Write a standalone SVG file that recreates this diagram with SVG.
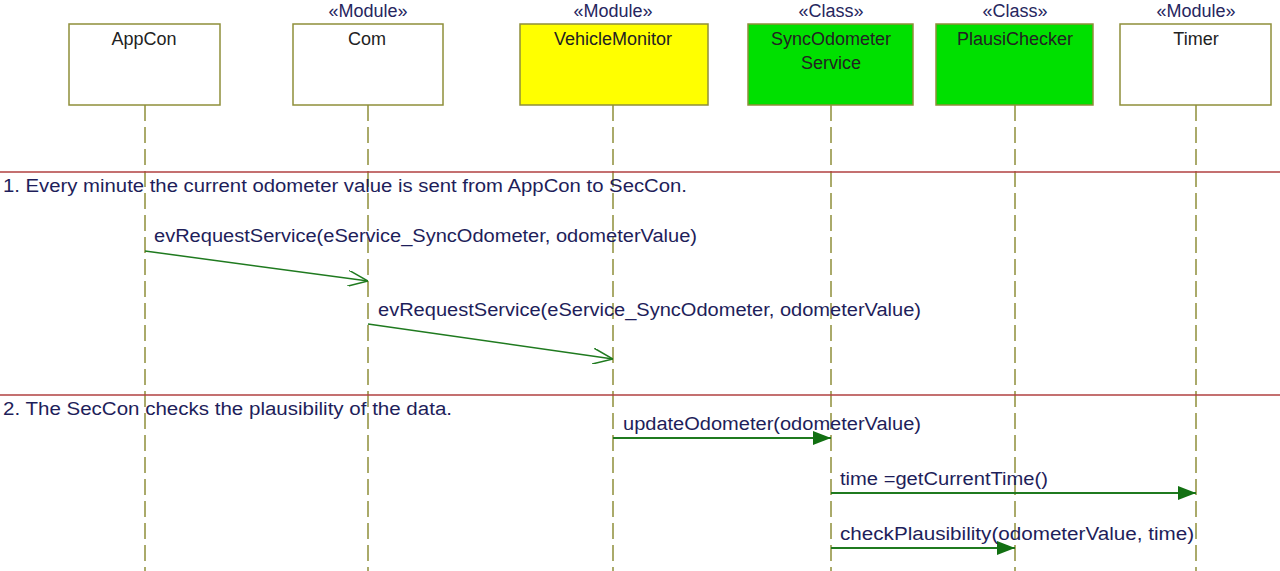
<svg xmlns="http://www.w3.org/2000/svg" width="1280" height="571" viewBox="0 0 1280 571">
<defs>
<style>
text{font-family:"Liberation Sans",Arial,sans-serif;font-size:18px}
.box{stroke:#8f8f3a;stroke-width:1.5}
.name{fill:#222222;text-anchor:middle}
.st{fill:#26265e;text-anchor:middle}
.life{stroke:#8f8f3a;stroke-width:1.5;stroke-dasharray:16 6;fill:none}
.sep{stroke:#b04040;stroke-width:1.5}
.note{fill:#1e1e5a}
.msg{stroke:#1f7a1f;stroke-width:1.5;fill:none}
.msgs{stroke:#1f7a1f;stroke-width:2;fill:none}
.lbl{fill:#1e1e5a}
</style>
<marker id="open" viewBox="0 0 20 16" refX="20" refY="8" markerWidth="20" markerHeight="16" markerUnits="userSpaceOnUse" orient="auto">
<path d="M0,0 L20,8 L0,16" fill="none" stroke="#1f7a1f" stroke-width="1.5"/>
</marker>
<marker id="filled" viewBox="0 0 18 14" refX="18" refY="7" markerWidth="18" markerHeight="14" markerUnits="userSpaceOnUse" orient="auto">
<path d="M0,0 L18,7 L0,14 Z" fill="#127012"/>
</marker>
</defs>
<rect width="1280" height="571" fill="#ffffff"/>

<g id="lifelines">
<line class="life" x1="145" y1="105" x2="145" y2="571"/>
<line class="life" x1="368" y1="105" x2="368" y2="571"/>
<line class="life" x1="613" y1="105" x2="613" y2="571"/>
<line class="life" x1="831" y1="105" x2="831" y2="571"/>
<line class="life" x1="1015" y1="105" x2="1015" y2="571"/>
<line class="life" x1="1196" y1="105" x2="1196" y2="571"/>
</g>

<g id="separators">
<line class="sep" x1="0" y1="172" x2="1280" y2="172"/>
<text class="note" x="3" y="192" textLength="684" lengthAdjust="spacingAndGlyphs">1. Every minute the current odometer value is sent from AppCon to SecCon.</text>
<line class="sep" x1="0" y1="395" x2="1280" y2="395"/>
<text class="note" x="3" y="415" textLength="449" lengthAdjust="spacingAndGlyphs">2. The SecCon checks the plausibility of the data.</text>
</g>

<g id="AppCon">
<rect class="box" x="69" y="24" width="151" height="81" fill="#ffffff"/>
<text class="name" x="144" y="45">AppCon</text>
</g>
<g id="Com">
<text class="st" x="368" y="17">«Module»</text>
<rect class="box" x="293" y="24" width="150" height="81" fill="#ffffff"/>
<text class="name" x="367" y="45">Com</text>
</g>
<g id="VehicleMonitor">
<text class="st" x="613" y="17">«Module»</text>
<rect class="box" x="520" y="24" width="188" height="81" fill="#ffff00"/>
<text class="name" x="613" y="45">VehicleMonitor</text>
</g>
<g id="SyncOdometerService">
<text class="st" x="831" y="17">«Class»</text>
<rect class="box" x="748" y="24" width="165" height="81" fill="#00e000"/>
<text class="name" x="831" y="45">SyncOdometer</text>
<text class="name" x="831" y="69">Service</text>
</g>
<g id="PlausiChecker">
<text class="st" x="1015" y="17">«Class»</text>
<rect class="box" x="936" y="24" width="157" height="81" fill="#00e000"/>
<text class="name" x="1015" y="45">PlausiChecker</text>
</g>
<g id="Timer">
<text class="st" x="1196" y="17">«Module»</text>
<rect class="box" x="1120" y="24" width="151" height="81" fill="#ffffff"/>
<text class="name" x="1196" y="45">Timer</text>
</g>

<g id="connectors">
<line class="msg" x1="145" y1="251" x2="368" y2="281" marker-end="url(#open)"/>
<text class="lbl" x="154" y="242" textLength="543" lengthAdjust="spacingAndGlyphs">evRequestService(eService_SyncOdometer, odometerValue)</text>
<line class="msg" x1="368" y1="324" x2="613" y2="359" marker-end="url(#open)"/>
<text class="lbl" x="378" y="316" textLength="543" lengthAdjust="spacingAndGlyphs">evRequestService(eService_SyncOdometer, odometerValue)</text>
<line class="msgs" x1="613" y1="438" x2="831" y2="438" marker-end="url(#filled)"/>
<text class="lbl" x="623" y="430" textLength="298" lengthAdjust="spacingAndGlyphs">updateOdometer(odometerValue)</text>
<line class="msgs" x1="831" y1="493" x2="1196" y2="493" marker-end="url(#filled)"/>
<text class="lbl" x="840" y="485" textLength="208" lengthAdjust="spacingAndGlyphs">time =getCurrentTime()</text>
<line class="msgs" x1="831" y1="548" x2="1015" y2="548" marker-end="url(#filled)"/>
<text class="lbl" x="840" y="540" textLength="354" lengthAdjust="spacingAndGlyphs">checkPlausibility(odometerValue, time)</text>
</g>
</svg>
